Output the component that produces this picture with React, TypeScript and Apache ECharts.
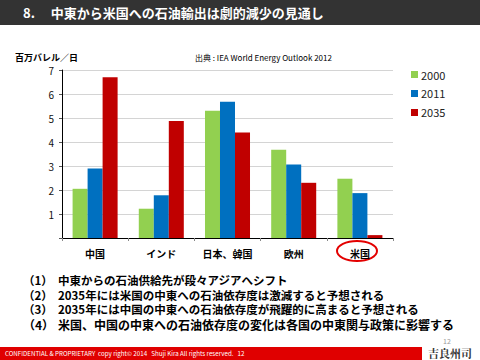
import React, { useEffect, useRef } from "react";
import * as echarts from "echarts";

const categories = ["中国", "インド", "日本、韓国", "欧州", "米国"];
const s2000 = [2.05, 1.22, 5.3, 3.68, 2.47];
const s2011 = [2.9, 1.78, 5.68, 3.06, 1.87];
const s2035 = [6.7, 4.88, 4.4, 2.3, 0.12];
const seriesNames = ["2000", "2011", "2035"];
const colors = ["#92D050", "#0070C0", "#C00000"];
const yTicks = [0, 1, 2, 3, 4, 5, 6, 7];
const bulletNums = ["（1）", "（2）", "（3）", "（4）"];
const bullets = [
  "中東からの石油供給先が段々アジアへシフト",
  "2035年には米国の中東への石油依存度は激減すると予想される",
  "2035年には中国の中東への石油依存度が飛躍的に高まると予想される",
  "米国、中国の中東への石油依存度の変化は各国の中東関与政策に影響する",
];
const titleText = "8.　 中東から米国への石油輸出は劇的減少の見通し";
const unitText = "百万バレル／日";
const sourceText = "出典 : IEA World Energy Outlook 2012";
const footerText = "CONFIDENTIAL & PROPRIETARY  copy right© 2014   Shuji Kira All rights reserved.   12";

const FONT = "'Noto Sans CJK JP', 'Noto Sans', sans-serif";

export default function App() {
  const ref = useRef<HTMLDivElement>(null);
  useEffect(() => {
    if (!ref.current) return;
    const chart = echarts.init(ref.current, undefined, { renderer: "svg" });
    const data = [s2000, s2011, s2035];
    const ys = [280, 294.5, 309, 324.5];
    const sizes = [11.5, 11.5, 11.5, 12];
    chart.setOption({
      animation: false,
      textStyle: { fontFamily: FONT },
      grid: { left: 62, top: 70, width: 331, height: 168, containLabel: false },
      legend: {
        orient: "vertical",
        left: 406,
        top: 64,
        itemWidth: 7,
        itemHeight: 7,
        itemGap: 8,
        icon: "rect",
        data: seriesNames,
        textStyle: { fontSize: 11, color: "#222", fontFamily: FONT, padding: [0, 0, 0, -2] },
      },
      xAxis: {
        type: "category",
        data: categories,
        axisLine: { lineStyle: { color: "#000", width: 1 } },
        axisTick: { show: true, length: 3, lineStyle: { color: "#888" } },
        axisLabel: { fontSize: 10, fontWeight: "bold", color: "#000", margin: 10 },
      },
      yAxis: {
        type: "value",
        min: yTicks[0],
        max: yTicks[yTicks.length - 1],
        interval: 1,
        axisLine: { show: true, lineStyle: { color: "#000", width: 1 } },
        axisTick: { show: true, length: 3, lineStyle: { color: "#555" } },
        axisLabel: {
          fontSize: 10,
          color: "#111",
          margin: 8,
          formatter: (v: number) => (v === 0 ? "" : String(v)),
        },
        splitLine: { show: true, lineStyle: { color: "#d4d4d4", width: 1 } },
      },
      series: seriesNames.map((n, i) => ({
        name: n,
        type: "bar",
        data: data[i],
        barGap: "0%",
        barCategoryGap: "32%",
        itemStyle: { color: colors[i] },
      })),
      graphic: [
        { type: "rect", shape: { x: 0, y: 0, width: 480, height: 25 }, style: { fill: "#333333" } },
        {
          type: "text",
          x: 23,
          y: 12.5,
          style: { text: titleText, fill: "#fff", font: `bold 13px ${FONT}`, verticalAlign: "middle" },
        },
        {
          type: "text",
          x: 15,
          y: 57,
          style: { text: unitText, fill: "#000", font: `bold 9px ${FONT}`, verticalAlign: "middle" },
        },
        {
          type: "text",
          x: 195,
          y: 57,
          style: { text: sourceText, fill: "#000", font: `8px ${FONT}`, verticalAlign: "middle" },
        },
        {
          type: "ellipse",
          shape: { cx: 357, cy: 251, rx: 20, ry: 10 },
          style: { fill: "none", stroke: "#E30000", lineWidth: 2 },
        },
        ...bulletNums.map((b, i) => ({
          type: "text",
          x: 23,
          y: ys[i],
          style: { text: b, fill: "#000", font: `bold ${sizes[i]}px ${FONT}`, verticalAlign: "middle" },
        })),
        ...bullets.map((b, i) => ({
          type: "text",
          x: 58,
          y: ys[i],
          style: { text: b, fill: "#000", font: `bold ${sizes[i]}px ${FONT}`, verticalAlign: "middle" },
        })),
        { type: "rect", shape: { x: 0, y: 347, width: 422, height: 13 }, style: { fill: "#E00000" } },
        {
          type: "text",
          x: 5,
          y: 353.5,
          style: { text: footerText, fill: "#fff", font: `6.2px ${FONT}`, verticalAlign: "middle" },
        },
        {
          type: "text",
          x: 443,
          y: 341,
          style: { text: "12", fill: "#999", font: `7px ${FONT}`, verticalAlign: "middle" },
        },
        {
          type: "text",
          x: 428,
          y: 353,
          style: { text: "吉良州司", fill: "#333", font: `bold 11px 'Noto Serif CJK JP', serif`, verticalAlign: "middle" },
        },
      ],
    });
    return () => chart.dispose();
  }, []);
  return (
    <div
      ref={ref}
      style={{ position: "absolute", left: 0, top: 0, width: 480, height: 360, background: "#fff" }}
    />
  );
}
